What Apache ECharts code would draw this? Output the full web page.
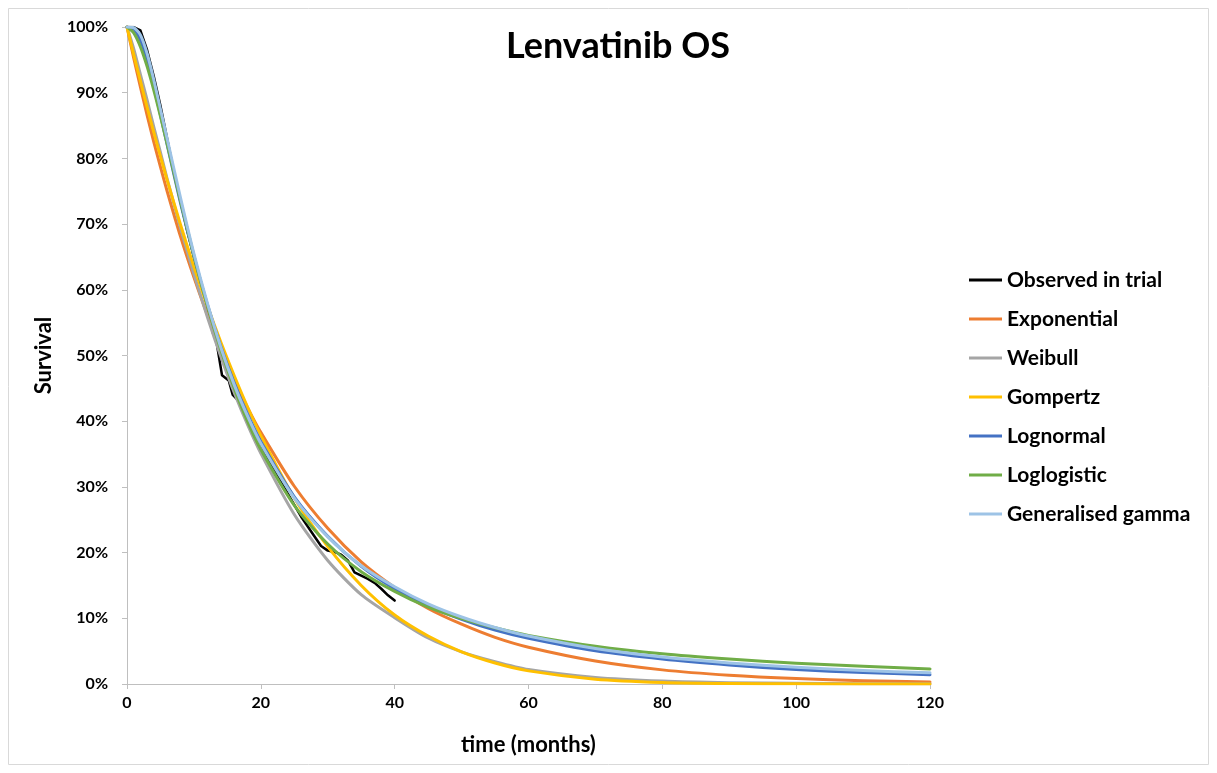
<!DOCTYPE html>
<html>
<head>
<meta charset="utf-8">
<script src="https://cdn.jsdelivr.net/npm/echarts@6/dist/echarts.min.js"></script>
<style>
  html, body { margin: 0; padding: 0; background: #fff; }
  #chart { width: 1217px; height: 773px; }
</style>
</head>
<body>
<div id="chart"></div>
<script>
// Kaplan-Meier estimate from the trial (months, survival %)
const observedMonths = [0, 1, 2, 3, 4, 5, 6, 7, 8, 9, 10, 11, 12, 12.8, 13.3, 14.2, 15.2, 15.8, 16.5, 18, 20, 22, 24, 26, 28, 29, 30, 31, 32, 33, 34, 35, 36, 37, 38, 39, 40];
const observedSurv   = [100, 100, 99.5, 96.5, 92.5, 88, 83, 78, 73.5, 69, 65, 61, 57.5, 53.5, 52.5, 47, 46.2, 44, 43.3, 40.5, 36.5, 32.5, 29, 25.5, 22.5, 21, 20.3, 20.1, 19.7, 18.8, 17, 16.5, 16, 15.4, 14.5, 13.5, 12.7];

// Fitted parametric survival curves (months, survival %)
const months = [0, 1, 2, 3, 4, 5, 6, 8, 10, 12, 14, 16, 18, 20, 25, 30, 35, 40, 45, 50, 55, 60, 70, 80, 90, 100, 110, 120];
const exponential  = [100, 95.3, 90.9, 86.6, 82.5, 78.7, 75.0, 68.1, 61.9, 56.2, 51.1, 46.4, 42.1, 38.3, 30.1, 23.7, 18.6, 14.7, 11.5, 9.1, 7.1, 5.6, 3.5, 2.15, 1.33, 0.82, 0.51, 0.32];
const weibull      = [100, 96.7, 92.8, 88.9, 84.8, 80.9, 76.9, 69.4, 62.4, 55.9, 49.9, 44.4, 39.5, 35.1, 25.8, 18.8, 13.6, 10.1, 7.0, 4.9, 3.4, 2.2, 1.0, 0.45, 0.2, 0.1, 0.05, 0.02];
const gompertz     = [100, 95.8, 91.8, 87.8, 84.0, 80.3, 76.7, 69.9, 63.5, 57.6, 52.1, 47.0, 42.2, 37.8, 28.3, 20.9, 15.0, 10.5, 7.3, 4.9, 3.2, 2.0, 0.72, 0.22, 0.06, 0.02, 0.01, 0.01];
const lognormal    = [100, 99.7, 98.0, 95.0, 91.0, 86.6, 82.1, 73.2, 65.1, 57.8, 51.4, 45.9, 41.1, 36.9, 28.5, 22.5, 17.9, 14.5, 11.9, 9.85, 8.2, 6.95, 5.05, 3.8, 2.9, 2.2, 1.75, 1.4];
const loglogistic  = [100, 99.1, 97.0, 94.0, 90.4, 86.4, 82.2, 73.5, 65.2, 57.6, 50.9, 45.1, 40.0, 35.7, 27.2, 21.3, 17.1, 14.1, 11.7, 9.95, 8.55, 7.4, 5.75, 4.6, 3.8, 3.15, 2.7, 2.3];
const genGamma     = [100, 99.9, 98.8, 96.0, 92.0, 87.5, 83.0, 74.0, 65.5, 58.0, 51.3, 45.6, 40.8, 36.6, 28.3, 22.4, 18.0, 14.8, 12.2, 10.2, 8.6, 7.3, 5.4, 4.1, 3.2, 2.55, 2.05, 1.7];

const xTicks = { min: 0, max: 120, interval: 20 };
const yTicks = { min: 0, max: 100, interval: 10 };

const pairs = (xs, ys) => xs.map((x, i) => [x, ys[i]]);

const fontFamily = 'Lato, "Liberation Sans", sans-serif';

const curveDefs = [
  { name: 'Observed in trial', x: observedMonths, y: observedSurv, color: '#000000', width: 2.5, smooth: false },
  { name: 'Exponential',       x: months, y: exponential, color: '#ED7D31', width: 3, smooth: 0.25 },
  { name: 'Weibull',           x: months, y: weibull,     color: '#A5A5A5', width: 3, smooth: 0.25 },
  { name: 'Gompertz',          x: months, y: gompertz,    color: '#FFC000', width: 3, smooth: 0.25 },
  { name: 'Lognormal',         x: months, y: lognormal,   color: '#4472C4', width: 3, smooth: 0.25 },
  { name: 'Loglogistic',       x: months, y: loglogistic, color: '#70AD47', width: 3, smooth: 0.25 },
  { name: 'Generalised gamma', x: months, y: genGamma,    color: '#9DC3E6', width: 3, smooth: 0.25 }
];

const chart = echarts.init(document.getElementById('chart'), null, { renderer: 'canvas' });

chart.setOption({
  backgroundColor: '#ffffff',
  animation: false,
  textStyle: { fontFamily: fontFamily },
  title: {
    text: 'Lenvatinib OS',
    left: 613,
    top: 23,
    textAlign: 'center',
    textStyle: { fontFamily: fontFamily, fontWeight: 'bold', fontSize: 36, color: '#000' }
  },
  graphic: [{
    type: 'rect',
    shape: { x: 8.5, y: 8.5, width: 1200, height: 756 },
    style: { fill: 'none', stroke: '#D9D9D9', lineWidth: 1 },
    silent: true,
    z: -1
  }],
  legend: {
    orient: 'vertical',
    left: 964,
    top: 263,
    itemWidth: 33,
    itemHeight: 3,
    itemGap: 15,
    icon: 'rect',
    textStyle: { fontFamily: fontFamily, fontWeight: 'bold', fontSize: 21, color: '#000', lineHeight: 24 },
    data: curveDefs.map(c => c.name)
  },
  grid: { left: 127, right: 287, top: 27, bottom: 89, containLabel: false },
  xAxis: {
    type: 'value',
    min: xTicks.min, max: xTicks.max, interval: xTicks.interval,
    name: 'time (months)',
    nameLocation: 'middle',
    nameGap: 50,
    nameTextStyle: { fontFamily: fontFamily, fontWeight: 'bold', fontSize: 22, color: '#000' },
    axisLine: { lineStyle: { color: '#BFBFBF', width: 1 } },
    axisTick: { show: true, inside: false, length: 5, lineStyle: { color: '#BFBFBF' } },
    axisLabel: { fontFamily: fontFamily, fontWeight: 'bold', fontSize: 16, color: '#000', margin: 11 },
    splitLine: { show: false }
  },
  yAxis: {
    type: 'value',
    min: yTicks.min, max: yTicks.max, interval: yTicks.interval,
    name: 'Survival',
    nameLocation: 'middle',
    nameGap: 72,
    nameRotate: 90,
    nameTextStyle: { fontFamily: fontFamily, fontWeight: 'bold', fontSize: 22, color: '#000' },
    axisLine: { show: true, lineStyle: { color: '#BFBFBF', width: 1 } },
    axisTick: { show: true, inside: false, length: 5, lineStyle: { color: '#BFBFBF' } },
    axisLabel: { fontFamily: fontFamily, fontWeight: 'bold', fontSize: 16, color: '#000', margin: 19, formatter: '{value}%' },
    splitLine: { show: false }
  },
  series: curveDefs.map(c => ({
    name: c.name,
    type: 'line',
    data: pairs(c.x, c.y),
    symbol: 'none',
    smooth: c.smooth,
    color: c.color,
    lineStyle: { color: c.color, width: c.width, cap: 'round', join: 'round' },
    emphasis: { disabled: true }
  }))
});
</script>
</body>
</html>
